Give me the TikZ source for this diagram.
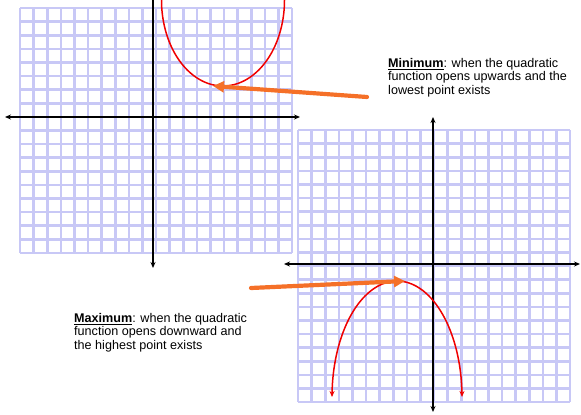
\documentclass[tikz,border=0pt]{standalone}
\usepackage{fontspec}
\setmainfont{Liberation Sans}
\usepackage{xcolor}
\usetikzlibrary{arrows.meta}
\definecolor{gridblue}{RGB}{200,200,246}
\definecolor{curvered}{RGB}{240,0,0}
\definecolor{pointer}{RGB}{245,112,40}

\begin{document}
\begin{tikzpicture}[x=1pt, y=-1pt, >={Stealth[length=6pt,width=5pt]},
    gridline/.style={gridblue, line width=2.6pt},
    axis/.style={black, line width=1.5pt},
    curve/.style={curvered, line width=1.5pt},
    pointerarrow/.style={-{Triangle[length=11pt,width=11pt]}, pointer, line width=4.2pt, line cap=round},
    notetext/.style={inner sep=0pt, align=left, font=\fontsize{12.6}{13.4}\selectfont}]

    \useasboundingbox (0,0) rectangle (581,415);

    % --- Grids ---
    % upper left grid (20 x 18 cells)
    \foreach \i in {0,...,20}
        \draw[gridline] ({20+13.6*\i},8) -- ({20+13.6*\i},252.8);
    \foreach \j in {0,...,18}
        \draw[gridline] (20,{8+13.6*\j}) -- (292,{8+13.6*\j});

    % lower right grid (20 x 20 cells)
    \foreach \i in {0,...,20}
        \draw[gridline] ({298+13.6*\i},130) -- ({298+13.6*\i},402);
    \foreach \j in {0,...,20}
        \draw[gridline] (298,{130+13.6*\j}) -- (570,{130+13.6*\j});

    % --- Axes ---
    % upper left axes
    \coordinate (ulleft) at (5,117);
    \coordinate (ulright) at (300,117);
    \coordinate (ultop) at (153,0);
    \coordinate (ulbottom) at (153,268);
    \draw[axis, <->] (ulleft) -- (ulright);
    \draw[axis, ->] (ultop) -- (ulbottom);

    % lower right axes
    \coordinate (lrleft) at (284,264);
    \coordinate (lrright) at (580,264);
    \coordinate (lrtop) at (433,117);
    \coordinate (lrbottom) at (433,412);
    \draw[axis, <->] (lrleft) -- (lrright);
    \draw[axis, <->] (lrtop) -- (lrbottom);

    % --- Curves ---
    % opening upwards, lowest point at (223,86)
    \draw[curve] plot[domain=0:180, samples=90, smooth] ({223+61.5*cos(\x)}, {86*sin(\x)});

    % opening downwards, highest point at (397,281)
    \draw[curve, <->] plot[domain=180:0, samples=90, smooth] ({397+65*cos(\x)}, {397-116*sin(\x)});

    % --- Annotations ---
    \node[notetext, anchor=base west] (mintext) at (388,94)
        {\underline{\textbf{Minimum}}: when the quadratic\\function opens upwards and the\\lowest point exists};
    \node[notetext, anchor=base west] (maxtext) at (74,349)
        {\underline{\textbf{Maximum}}: when the quadratic\\function opens downward and\\the highest point exists};

    % orange pointers to the turning points
    \coordinate (minpt) at (213,86);
    \coordinate (mintail) at (367,97);
    \coordinate (maxpt) at (405,281);
    \coordinate (maxtail) at (251,288);
    \draw[pointerarrow] (mintail) -- (minpt);
    \draw[pointerarrow] (maxtail) -- (maxpt);

\end{tikzpicture}
\end{document}
